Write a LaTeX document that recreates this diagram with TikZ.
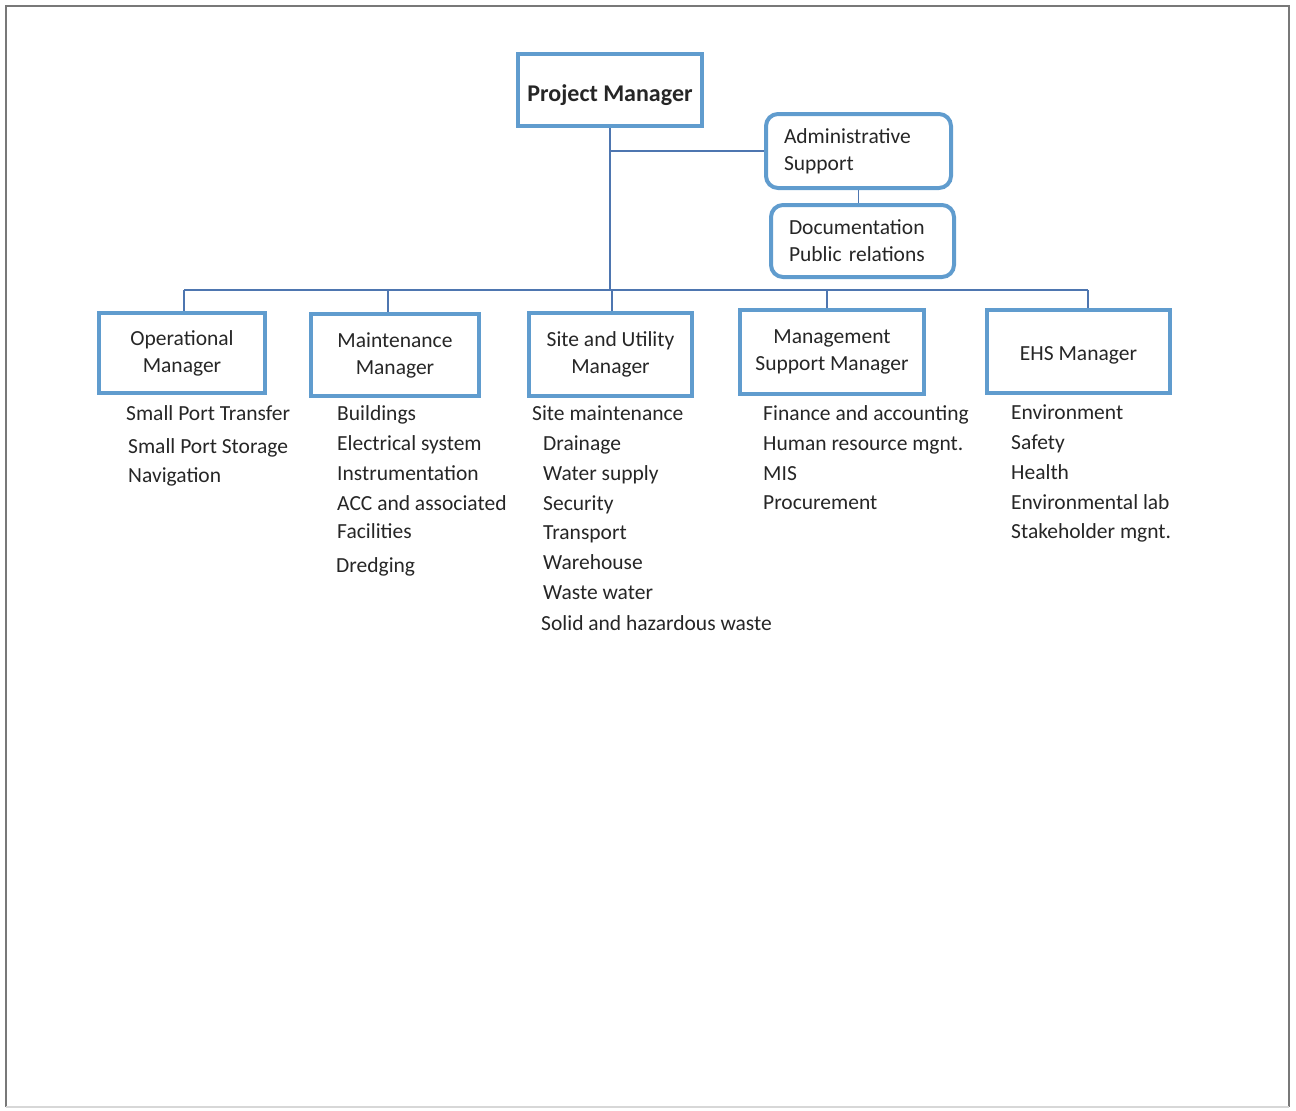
\documentclass[tikz,border=0pt]{standalone}
\usepackage{fontspec}
\setmainfont{Carlito}
\definecolor{boxblue}{RGB}{96,156,206}
\definecolor{linkblue}{RGB}{78,118,176}
\definecolor{ink}{RGB}{38,38,38}
\definecolor{framegray}{RGB}{120,120,120}
\begin{document}
\begin{tikzpicture}[x=1pt,y=-1pt,
  boxbase/.style={draw=boxblue, line width=4pt, inner sep=0pt,
    font=\fontsize{21.5}{27}\selectfont, text=ink},
  box/.style={boxbase, align=center, execute at begin node={\rule{0pt}{22pt}}},
  rbox/.style={boxbase, rounded corners=12pt, align=left, inner xsep=18pt},
  link/.style={draw=linkblue, line width=1.8pt},
  item/.style={anchor=base west, inner sep=0pt, font=\fontsize{21.5}{25}\selectfont, text=ink},
  frame/.style={draw=framegray, line width=2pt}]
\useasboundingbox (0,0) rectangle (1296,1111);
% page frame
\draw[frame] (6,1107) -- (6,6) -- (1289,6) -- (1289,1107);
\draw[draw=framegray!30, line width=1.5pt] (6,1107) -- (1289,1107);

% top of the chart
\node[boxbase, align=center, minimum width=184, minimum height=72,
  font=\bfseries\fontsize{24}{28}\selectfont] (pm) at (610,90) {\rule{0pt}{28pt}Project Manager};
\node[rbox, text width=149, minimum height=74] (adm) at (858.5,151) {Administrative\\Support};
\node[rbox, text width=147, minimum height=72] (doc) at (862.5,241) {Documentation\\Public relations};

% managers
\node[box, minimum width=166, minimum height=80] (op) at (182,353) {Operational\\Manager};
\node[box, minimum width=168, minimum height=82] (mt) at (395,355) {Maintenance\\Manager};
\node[box, minimum width=163, minimum height=83] (su) at (610.5,354.5) {Site and Utility\\Manager};
\node[box, minimum width=184, minimum height=84] (ms) at (832,352) {Management\\Support Manager};
\node[box, minimum width=183, minimum height=83] (ehs) at (1078.5,351.5) {EHS Manager};

% connectors
\coordinate (dop) at (184,290);
\coordinate (dmt) at (388,290);
\coordinate (dsu) at (612,290);
\coordinate (dms) at (827,290);
\coordinate (dehs) at (1088,290);
\draw[link] (dop) -- (dehs);
\draw[link] (pm.south) -- (pm.south |- dsu);
\draw[link] (pm.south |- adm.west) -- (adm.west);
\draw[link] (adm.south) -- (adm.south |- doc.north);
\draw[link] (dop) -- (dop |- op.north);
\draw[link] (dmt) -- (dmt |- mt.north);
\draw[link] (dsu) -- (dsu |- su.north);
\draw[link] (dms) -- (dms |- ms.north);
\draw[link] (dehs) -- (dehs |- ehs.north);

% duties under each manager
\foreach \n/\x/\y/\t in {
  op1/126/420/Small Port Transfer, op2/128/453/Small Port Storage, op3/128/482/Navigation,
  mt1/337/420/Buildings, mt2/337/450/Electrical system, mt3/337/480/Instrumentation,
  mt4/337/510/ACC and associated, mt5/337/538/Facilities, mt6/336/572/Dredging,
  su1/532/420/Site maintenance, su2/543/450/Drainage, su3/543/480/Water supply,
  su4/543/510/Security, su5/543/539/Transport, su6/543/569/Warehouse,
  su7/543/599/Waste water, su8/541/630/Solid and hazardous waste,
  ms1/763/420/Finance and accounting, ms2/763/450/Human resource mgnt.,
  ms3/763/480/MIS, ms4/763/509/Procurement,
  eh1/1011/419/Environment, eh2/1011/449/Safety, eh3/1011/479/Health,
  eh4/1011/509/Environmental lab, eh5/1011/538/Stakeholder mgnt.}
  \node[item] (\n) at (\x,\y) {\t};
\end{tikzpicture}
\end{document}
